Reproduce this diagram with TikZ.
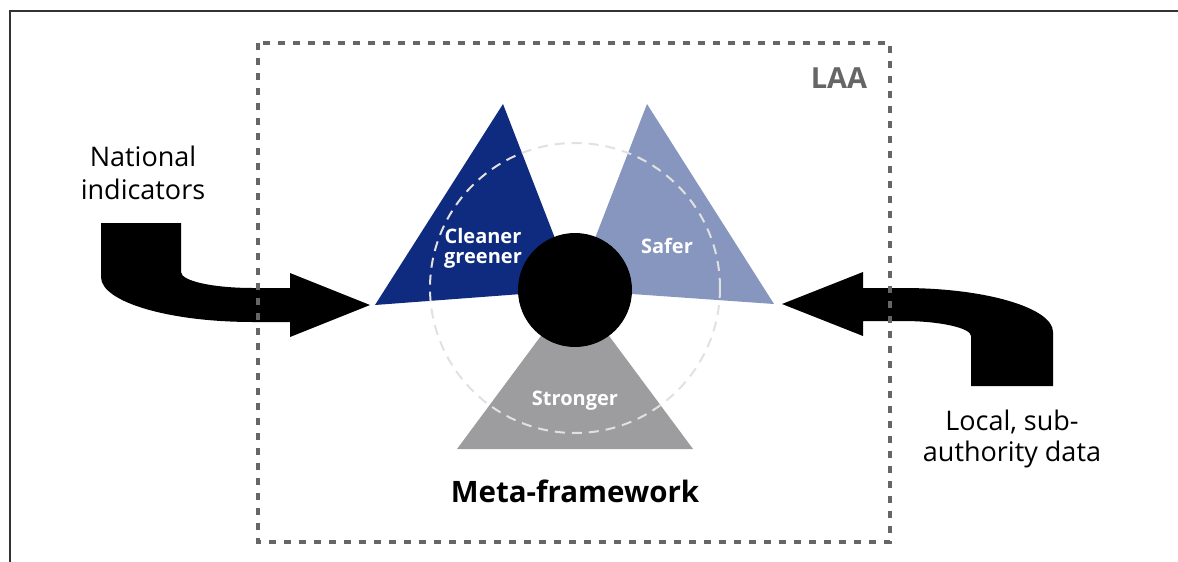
\documentclass[tikz,border=0pt]{standalone}
\usepackage{fontspec}
\setmainfont{Open Sans}
\definecolor{cgblue}{RGB}{15,43,128}
\definecolor{sfblue}{RGB}{135,150,191}
\definecolor{stgray}{RGB}{157,157,159}
\definecolor{laagray}{RGB}{102,102,102}
\definecolor{ringgray}{RGB}{225,225,225}
\begin{document}
\begin{tikzpicture}[x=1pt,y=-1pt,
  lbl/.style={inner sep=0pt, align=center, text=black},
  tri/.style={inner sep=0pt, align=center, text=white, font=\fontsize{20}{20}\selectfont\bfseries},
  blockarrow/.style={fill=black, draw=none}]
\useasboundingbox (0,0) rectangle (1178,562);
% outer frame
\draw[line width=1.5pt, black!80, line join=miter] (1180,11) -- (10,11) -- (10,564);
% triangles
\fill[cgblue] (503,104) -- (375,305) -- (575,290) -- cycle;
\fill[sfblue] (647,104) -- (774,304) -- (575,290) -- cycle;
\fill[stgray] (457,449) -- (693,449) -- (575,290) -- cycle;
% dashed ring
\draw[ringgray, line width=2pt, dash pattern=on 10pt off 7pt] (575,288) circle[radius=145];
% hub
\node[circle, fill=black, minimum size=114pt, inner sep=0pt] (hub) at (575,290) {};
% triangle labels
\node[tri] (cg) at (483,248) {Cleaner\\greener};
\node[tri, anchor=base] (sf) at (667,253) {Safer};
\node[tri, anchor=base] (st) at (575,405) {Stronger};
% left block arrow
\fill[blockarrow] (101,223) -- (181,223) -- (181,272)
  .. controls (181,281) and (213,288) .. (253,288)
  -- (290,288) -- (290,273) -- (370,305) -- (290,337) -- (290,322) -- (253,322)
  .. controls (169,322) and (101,302) .. (101,277) -- cycle;
% right block arrow
\fill[blockarrow] (782,304) -- (863,272) -- (863,288) -- (903,288)
  .. controls (986,288) and (1053,308) .. (1053,332)
  -- (1053,386) -- (971,386) -- (971,336)
  .. controls (971,328) and (940,321) .. (903,321)
  -- (863,321) -- (863,336) -- cycle;
% LAA box
\draw[laagray, line width=4.5pt, dash pattern=on 7pt off 8pt] (258,43) rectangle (890,542);
\node[anchor=base, inner sep=0pt, text=laagray, font=\fontsize{29}{30}\selectfont\bfseries] (laa) at (839,88) {LAA};
% labels
\node[lbl, font=\fontsize{27}{33}\selectfont] (nat) at (143,173) {National\\indicators};
\node[lbl, font=\fontsize{27}{31}\selectfont] (loc) at (1012,438.5) {Local, sub-\\authority data};
\node[anchor=base, inner sep=0pt, font=\fontsize{29.5}{30}\selectfont\bfseries] (meta) at (575,502) {Meta-framework};
\end{tikzpicture}
\end{document}
